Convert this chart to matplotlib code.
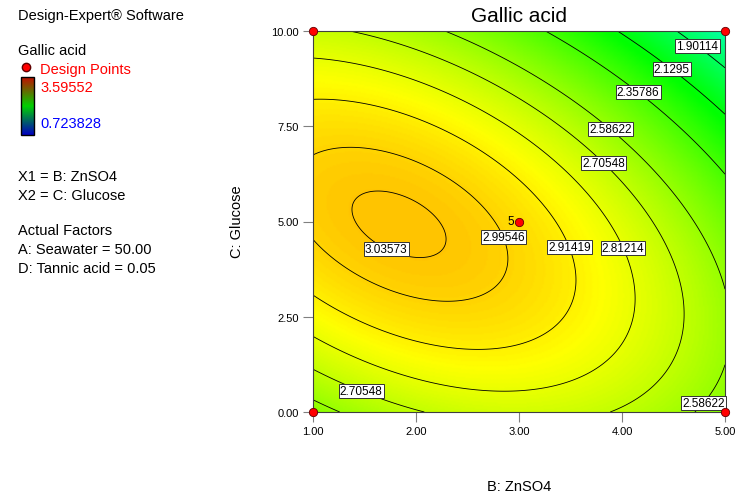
import numpy as np
import matplotlib
matplotlib.use("Agg")
import matplotlib.pyplot as plt
from matplotlib.colors import LinearSegmentedColormap
from matplotlib.patches import Rectangle

plt.rcParams['font.family'] = ['Liberation Sans', 'DejaVu Sans']

# response range shown in the legend
z_min, z_max = 0.723828, 3.59552

# contour levels drawn on the plot
levels = [1.90114, 2.1295, 2.35786, 2.58622, 2.70548, 2.81214, 2.91419, 2.99546, 3.03573]
level_text = ['1.90114', '2.1295', '2.35786', '2.58622', '2.70548', '2.81214', '2.91419', '2.99546', '3.03573']

# points (level, B: ZnSO4, C: Glucose)
pt_level = [3.03573, 3.03573, 3.03573, 3.03573,
            2.99546, 2.99546, 2.99546, 2.99546, 2.99546, 2.99546, 2.99546,
            2.91419, 2.91419, 2.91419, 2.91419, 2.91419,
            2.81214, 2.81214, 2.81214, 2.81214, 2.81214, 2.81214,
            2.70548, 2.70548, 2.70548, 2.70548, 2.70548, 2.70548, 2.70548, 2.70548,
            2.58622, 2.58622, 2.58622, 2.58622, 2.58622, 2.58622, 2.58622,
            2.35786, 2.35786, 2.35786,
            2.1295, 2.1295, 2.1295,
            1.90114, 1.90114, 1.90114]
pt_b = [1.38, 2.20, 1.49, 2.04,
        1.00, 1.00, 2.82, 2.30, 2.04, 2.59, 1.46,
        1.00, 1.00, 3.47, 3.01, 3.01,
        1.00, 1.00, 4.00, 3.40, 3.98, 4.08,
        1.33, 1.00, 2.07, 3.88, 3.83, 1.49, 4.53, 4.56,
        2.24, 1.00, 1.23, 4.70, 3.89, 4.76, 5.00,
        3.22, 5.00, 4.17,
        3.91, 5.00, 4.50,
        4.49, 5.00, 4.76]
pt_c = [5.28, 4.62, 5.67, 4.12,
        6.85, 4.41, 4.54, 2.91, 6.64, 5.85, 3.49,
        8.22, 3.02, 4.30, 1.84, 5.93,
        9.36, 2.10, 4.30, 0.47, 1.39, 3.49,
        10.0, 1.18, 0.00, 0.00, 6.56, 0.66, 3.49, 1.73,
        10.0, 0.26, 0.00, 0.00, 7.45, 0.29, 3.10,
        10.0, 6.25, 8.40,
        10.0, 7.74, 9.06,
        10.0, 9.00, 9.71]

# where each contour label sits
label_level = [1.90114, 2.1295, 2.35786, 2.58622, 2.70548, 2.81214, 2.91419, 2.99546, 3.03573, 2.70548, 2.58622]
label_b = [4.76, 4.50, 4.17, 3.89, 3.83, 4.00, 3.47, 2.82, 1.75, 1.49, 4.76]
label_c = [9.71, 9.06, 8.40, 7.45, 6.56, 4.30, 4.30, 4.54, 4.46, 0.66, 0.29]

# design points
design_b = [1, 1, 5, 5, 3]
design_c = [0, 10, 0, 10, 5]

xticks = [1, 2, 3, 4, 5]
xtick_labels = ['1.00', '2.00', '3.00', '4.00', '5.00']
yticks = [0, 2.5, 5, 7.5, 10]
ytick_labels = ['0.00', '2.50', '5.00', '7.50', '10.00']

# quadratic response surface fitted to the contour points
b = np.array(pt_b)
c = np.array(pt_c)
A = np.column_stack([np.ones_like(b), b, c, b * c, b ** 2, c ** 2])
coef = np.linalg.lstsq(A, np.array(pt_level), rcond=None)[0]

bb, cc = np.meshgrid(np.linspace(1, 5, 300), np.linspace(0, 10, 300))
zz = coef[0] + coef[1] * bb + coef[2] * cc + coef[3] * bb * cc + coef[4] * bb ** 2 + coef[5] * cc ** 2

de_cmap = LinearSegmentedColormap.from_list(
    'de', [(0, '#0000ff'), (0.25, '#00ffff'), (0.5, '#00ff00'), (0.75, '#ffff00'), (1, '#ff0000')])

fig = plt.figure(figsize=(7.35, 5.02), dpi=100)
ax = fig.add_axes([313 / 735, 1 - 413 / 502, 412 / 735, 381 / 502])

ax.pcolormesh(bb, cc, zz, cmap=de_cmap, vmin=z_min, vmax=z_max, shading='gouraud')
cs = ax.contour(bb, cc, zz, levels=levels, colors='black', linewidths=0.6)
ax.set_xlim(1, 5)
ax.set_ylim(0, 10)

# put each label on the nearest point of its own contour line
for lev, x, y in zip(label_level, label_b, label_c):
    segs = cs.allsegs[levels.index(lev)]
    best = None
    for seg in segs:
        if len(seg) == 0:
            continue
        d = ((seg[:, 0] - x) / 4) ** 2 + ((seg[:, 1] - y) / 10) ** 2
        i = np.argmin(d)
        if best is None or d[i] < best[0]:
            best = (d[i], seg[i])
    px, py = best[1] if best is not None else (x, y)
    ax.text(px, py, level_text[levels.index(lev)], fontsize=8.5, ha='center', va='center', zorder=5,
            bbox=dict(facecolor='white', edgecolor='#333333', linewidth=0.7, pad=0.8))

ax.plot(design_b, design_c, 'o', color='red', markeredgecolor='#600000', markeredgewidth=0.6,
        markersize=6, clip_on=False, zorder=10)
ax.text(2.95, 5.0, '5', fontsize=8.5, ha='right', va='center')

ax.set_xticks(xticks, xtick_labels)
ax.set_yticks(yticks, ytick_labels)
ax.tick_params(direction='out', length=7, width=0.8, color='#808080', labelsize=8, pad=3)
for s in ax.spines.values():
    s.set_color('#404040')
    s.set_linewidth(0.8)

fig.text(519 / 735, 1 - 17 / 502, 'Gallic acid', fontsize=15, ha='center', va='center')
fig.text(519 / 735, 1 - 487 / 502, 'B: ZnSO4', fontsize=10.5, ha='center', va='center')
fig.text(237 / 735, 1 - 222 / 502, 'C: Glucose', fontsize=10.5, ha='center', va='center', rotation=90)

# left-hand notes
left = 18 / 735
fs = 10.5
fig.text(left, 1 - 16 / 502, 'Design-Expert® Software', fontsize=fs, va='center')
fig.text(left, 1 - 51 / 502, 'Gallic acid', fontsize=fs, va='center')
fig.text(40 / 735, 1 - 70 / 502, 'Design Points', fontsize=fs, va='center', color='red')
fig.text(40 / 735, 1 - 88 / 502, '3.59552', fontsize=fs, va='center', color='red')
fig.text(40 / 735, 1 - 124 / 502, '0.723828', fontsize=fs, va='center', color='blue')
fig.text(left, 1 - 177 / 502, 'X1 = B: ZnSO4', fontsize=fs, va='center')
fig.text(left, 1 - 196 / 502, 'X2 = C: Glucose', fontsize=fs, va='center')
fig.text(left, 1 - 231 / 502, 'Actual Factors', fontsize=fs, va='center')
fig.text(left, 1 - 250 / 502, 'A: Seawater = 50.00', fontsize=fs, va='center')
fig.text(left, 1 - 269 / 502, 'D: Tannic acid = 0.05', fontsize=fs, va='center')

leg = fig.add_axes([0, 0, 1, 1], zorder=-1)
bar_cmap = LinearSegmentedColormap.from_list('bar', ['#0000c0', '#00d000', '#c01000'])
leg.imshow(np.linspace(1, 0, 100).reshape(-1, 1), cmap=bar_cmap, aspect='auto',
           extent=[21, 34, 136, 78])
leg.add_patch(Rectangle((21, 78), 13, 58, fill=False, edgecolor='black', linewidth=1))
leg.plot([26], [68], 'o', color='red', markeredgecolor='#600000', markersize=6)
leg.set_xlim(0, 735)
leg.set_ylim(502, 0)
leg.axis('off')

fig.savefig('out.png', dpi=100)
